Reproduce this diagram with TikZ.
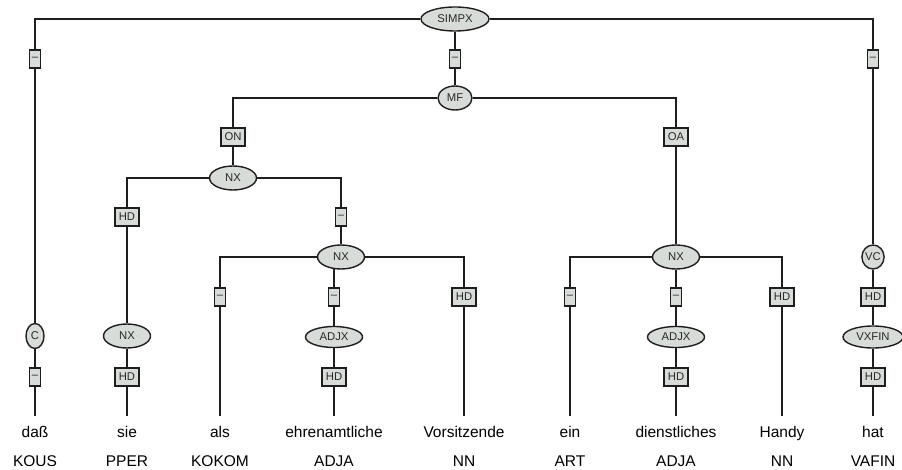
\documentclass[tikz,border=0pt]{standalone}
\usepackage{fontspec}
\setmainfont{Liberation Sans}
\usetikzlibrary{shapes.geometric}
\definecolor{nodefill}{RGB}{216,220,216}
\definecolor{linecol}{RGB}{30,30,30}
\definecolor{labcol}{RGB}{40,40,40}
\pgfdeclarelayer{background}
\pgfsetlayers{background,main}
\begin{document}
\begin{tikzpicture}[x=1pt,y=-1pt,
  catnode/.style={ellipse, draw=linecol, line width=1.4pt, fill=nodefill, inner sep=0pt,
    minimum height=24pt, font=\fontsize{11.3}{13}\selectfont, text=labcol},
  funbox/.style={rectangle, draw=linecol, line width=1.6pt, fill=nodefill, inner sep=0pt,
    minimum height=18pt, minimum width=24pt, font=\fontsize{11.3}{13}\selectfont, text=labcol},
  dashbox/.style={funbox, minimum width=11pt},
  wordnode/.style={anchor=base, font=\fontsize{15.5}{18}\selectfont, inner ysep=0pt,
    text height=11pt, outer ysep=10pt},
  tagnode/.style={anchor=base, font=\fontsize{15.5}{18}\selectfont},
  conn/.style={draw=linecol, line width=1.3pt}]
\useasboundingbox (0,0) rectangle (902,470);
\node[catnode, minimum width=68pt] (simpx) at (455,19) {SIMPX};
\node[dashbox] (f1) at (35,59) {\textendash};
\node[catnode, minimum width=18pt, minimum height=25pt] (c) at (35,336) {C};
\node[dashbox] (f2) at (35,377) {\textendash};
\node[wordnode] (w1) at (35,437) {daß};
\node[tagnode] (p1) at (35,466) {KOUS};
\node[dashbox] (f3) at (455,59) {\textendash};
\node[catnode, minimum width=34pt] (mf) at (455,98) {MF};
\node[dashbox] (f4) at (873,59) {\textendash};
\node[catnode, minimum width=22pt] (vc) at (873,257) {VC};
\node[funbox] (f5) at (873,297) {HD};
\node[catnode, minimum width=60pt, minimum height=22pt] (vxfin) at (873,337) {VXFIN};
\node[funbox] (f6) at (873,377) {HD};
\node[wordnode] (w9) at (873,437) {hat};
\node[tagnode] (p9) at (873,466) {VAFIN};
\node[funbox] (f7) at (233,137) {ON};
\node[catnode, minimum width=47pt] (nx1) at (233,178) {NX};
\node[funbox] (f8) at (676,137) {OA};
\node[catnode, minimum width=47pt] (nx3) at (676,257) {NX};
\node[funbox] (f9) at (127,217) {HD};
\node[catnode, minimum width=47pt] (nx4) at (127,336) {NX};
\node[funbox] (f10) at (127,377) {HD};
\node[wordnode] (w2) at (127,437) {sie};
\node[tagnode] (p2) at (127,466) {PPER};
\node[dashbox] (f11) at (341,217) {\textendash};
\node[catnode, minimum width=47pt] (nx2) at (341,257) {NX};
\node[dashbox] (f12) at (220,297) {\textendash};
\node[wordnode] (w3) at (220,437) {als};
\node[tagnode] (p3) at (220,466) {KOKOM};
\node[dashbox] (f13) at (334,297) {\textendash};
\node[catnode, minimum width=57pt, minimum height=21pt] (adjx1) at (334,337) {ADJX};
\node[funbox] (f14) at (334,377) {HD};
\node[wordnode] (w4) at (334,437) {ehrenamtliche};
\node[tagnode] (p4) at (334,466) {ADJA};
\node[funbox] (f15) at (464,297) {HD};
\node[wordnode] (w5) at (464,437) {Vorsitzende};
\node[tagnode] (p5) at (464,466) {NN};
\node[dashbox] (f16) at (570,297) {\textendash};
\node[wordnode] (w6) at (570,437) {ein};
\node[tagnode] (p6) at (570,466) {ART};
\node[dashbox] (f17) at (676,297) {\textendash};
\node[catnode, minimum width=57pt, minimum height=21pt] (adjx2) at (676,337) {ADJX};
\node[funbox] (f18) at (676,377) {HD};
\node[wordnode] (w7) at (676,437) {dienstliches};
\node[tagnode] (p7) at (676,466) {ADJA};
\node[funbox] (f19) at (782,297) {HD};
\node[wordnode] (w8) at (782,437) {Handy};
\node[tagnode] (p8) at (782,466) {NN};
\begin{pgfonlayer}{background}
\path[conn] (simpx) -| (f1);
\path[conn] (f1) -- (c) -- (f2) -- (w1);
\path[conn] (simpx) -- (f3) -- (mf);
\path[conn] (simpx) -| (f4);
\path[conn] (f4) -- (vc) -- (f5) -- (vxfin) -- (f6) -- (w9);
\path[conn] (mf) -| (f7);
\path[conn] (f7) -- (nx1);
\path[conn] (mf) -| (f8);
\path[conn] (f8) -- (nx3);
\path[conn] (nx1) -| (f9);
\path[conn] (f9) -- (nx4) -- (f10) -- (w2);
\path[conn] (nx1) -| (f11);
\path[conn] (f11) -- (nx2);
\path[conn] (nx2) -| (f12);
\path[conn] (f12) -- (w3);
\path[conn] (f13 |- nx2) -- (f13) -- (adjx1) -- (f14) -- (w4);
\path[conn] (nx2) -| (f15);
\path[conn] (f15) -- (w5);
\path[conn] (nx3) -| (f16);
\path[conn] (f16) -- (w6);
\path[conn] (nx3) -- (f17) -- (adjx2) -- (f18) -- (w7);
\path[conn] (nx3) -| (f19);
\path[conn] (f19) -- (w8);
\end{pgfonlayer}
\end{tikzpicture}
\end{document}
